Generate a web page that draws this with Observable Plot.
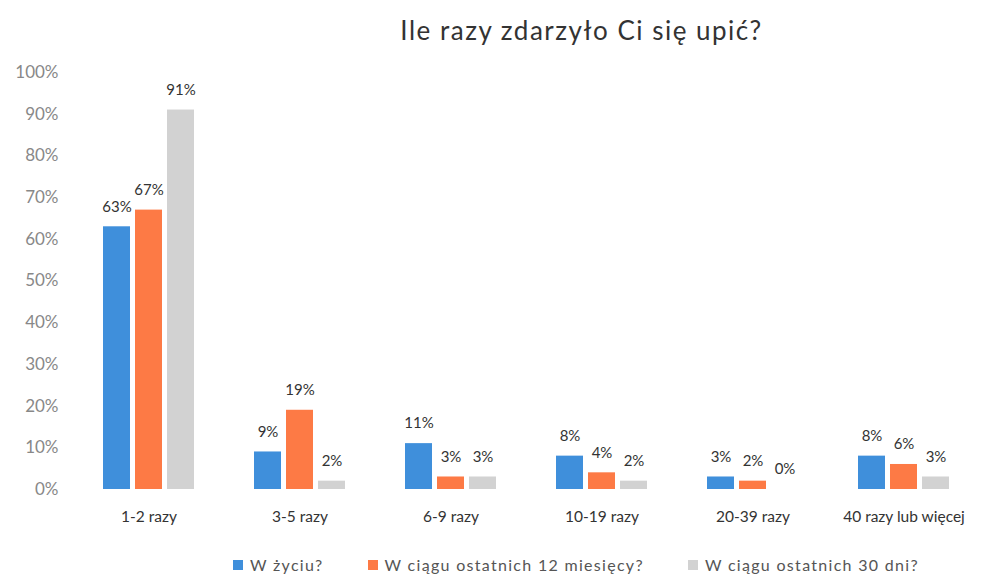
<!DOCTYPE html>
<html>
<head>
<meta charset="utf-8">
<script src="https://cdn.jsdelivr.net/npm/d3@7"></script>
<script src="https://cdn.jsdelivr.net/npm/@observablehq/plot@0.6"></script>
<style>
  html, body { margin: 0; padding: 0; background: #fff; }
  body { width: 983px; height: 575px; overflow: hidden; font-family: Lato, "Open Sans", sans-serif; }
  #title { box-sizing: border-box; height: 55px; padding-top: 17px; padding-left: 180px; text-align: center;
           font-size: 26px; letter-spacing: 1.5px; line-height: 1; color: #333; }
  #legend { box-sizing: border-box; height: 40px; padding-top: 20px; padding-left: 233px; display: flex;
            gap: 44px; font-size: 16px; letter-spacing: 1.3px; line-height: 18px; color: #555; }
  .item { display: flex; align-items: center; gap: 7px; }
  .sw { width: 10px; height: 10px; display: inline-block; }
</style>
</head>
<body>
<div id="title">Ile razy zdarzyło Ci się upić?</div>
<div id="chart"></div>
<div id="legend"></div>
<script>
const categories = ["1-2 razy", "3-5 razy", "6-9 razy", "10-19 razy", "20-39 razy", "40 razy lub więcej"];
const series = ["W życiu?", "W ciągu ostatnich 12 miesięcy?", "W ciągu ostatnich 30 dni?"];
const lifetime = [63, 9, 11, 8, 3, 8];
const last12months = [67, 19, 3, 4, 2, 6];
const last30days = [91, 2, 3, 2, 0, 3];
const yTicks = [0, 10, 20, 30, 40, 50, 60, 70, 80, 90, 100];
const colors = ["#3f8fdb", "#fd7a45", "#d2d2d2"];

const seriesValues = [lifetime, last12months, last30days];
const data = categories.flatMap((c, i) =>
  series.map((s, j) => ({category: c, series: s, value: seriesValues[j][i]}))
);

const chart = Plot.plot({
  width: 983,
  height: 480,
  marginLeft: 71,
  marginRight: 2,
  marginTop: 17,
  marginBottom: 46,
  style: {fontFamily: "Lato, 'Open Sans', sans-serif", background: "#fff"},
  fx: {domain: categories, padding: 0, label: null},
  x: {domain: series, axis: null, paddingInner: 0.15, paddingOuter: 0.88},
  y: {domain: [0, 100], label: null},
  color: {domain: series, range: colors},
  marks: [
    Plot.axisY({ticks: yTicks, tickFormat: d => d + "%", tickSize: 0, tickPadding: 15, label: null,
                fontSize: 17, fill: "#888", color: "#888", letterSpacing: "0.8px"}),
    Plot.axisFx({anchor: "bottom", tickSize: 0, tickPadding: 21, label: null, fontSize: 15.5,
                 color: "#333", letterSpacing: "0.5px"}),
    Plot.barY(data, {fx: "category", x: "series", y: "value", fill: "series"}),
    Plot.text(data, {fx: "category", x: "series", y: "value", text: d => d.value + "%",
                     dy: -20, fontSize: 15, fill: "#333", letterSpacing: "0.3px"})
  ]
});
document.getElementById("chart").appendChild(chart);

const legend = document.getElementById("legend");
series.forEach((s, i) => {
  const item = document.createElement("div");
  item.className = "item";
  const sw = document.createElement("span");
  sw.className = "sw";
  sw.style.background = colors[i];
  const t = document.createElement("span");
  t.textContent = s;
  item.appendChild(sw);
  item.appendChild(t);
  legend.appendChild(item);
});
</script>
</body>
</html>
